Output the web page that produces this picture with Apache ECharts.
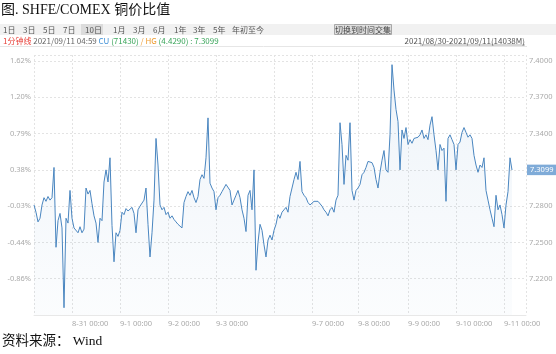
<!DOCTYPE html>
<html>
<head>
<meta charset="utf-8">
<script src="https://cdn.jsdelivr.net/npm/echarts@6/dist/echarts.min.js"></script>
<style>
html,body{margin:0;padding:0;background:#fff;}
#chart{width:556px;height:354px;}
</style>
</head>
<body>
<div id="chart"></div>
<script>
// ---- data (SHFE/COMEX copper ratio, sampled along the trading-minute axis) ----
const ratioValues = [
  // 8-30 night .. 9-1
  7.281,7.275,7.267,7.270,7.281,7.287,7.284,7.288,7.285,7.287,7.312,7.246,7.268,7.274,7.262,7.196,7.270,7.266,7.293,7.270,
  7.262,7.262,7.258,7.263,7.258,7.261,7.295,7.290,7.293,7.282,7.272,7.266,7.250,7.270,7.268,7.300,7.310,7.300,7.320,7.264,
  7.234,7.258,7.255,7.260,7.275,7.273,7.278,7.276,
  // 9-1 .. 9-3
  7.277,7.279,7.274,7.258,7.277,7.280,7.281,7.285,7.295,7.265,7.238,7.258,7.285,7.336,7.314,7.281,7.277,7.279,7.273,7.275,
  7.270,7.272,7.269,7.267,7.265,7.265,7.262,7.283,7.288,7.292,7.289,7.293,7.287,7.283,7.288,7.302,7.306,7.303,7.320,7.353,
  7.299,7.295,7.292,7.277,7.287,7.289,7.292,7.293,7.298,
  // 9-3 .. 9-7
  7.299,7.293,7.281,7.285,7.289,7.293,7.287,7.277,7.270,7.259,7.289,7.293,7.277,7.310,7.227,7.250,7.265,7.260,7.248,7.238,
  7.252,7.256,7.252,7.260,7.265,7.273,7.270,7.275,7.277,7.279,7.275,7.288,7.295,7.302,7.308,7.302,7.317,7.292,7.289,7.287,
  7.283,7.281,7.282,7.284,7.284,7.284,7.284,7.280,7.277,
  // 9-7 .. 9-9
  7.275,7.272,7.277,7.279,7.275,7.285,7.289,7.349,7.331,7.298,7.322,7.318,7.349,7.293,7.285,7.293,7.295,7.298,7.306,7.308,
  7.312,7.317,7.318,7.316,7.312,7.302,7.295,7.308,7.318,7.326,7.310,7.308,7.339,7.397,7.376,7.360,7.350,7.310,7.343,7.336,
  7.345,7.331,7.335,7.332,7.336,7.335,7.337,7.339,7.343,
  // 9-9 .. 9-11 04:59
  7.336,7.339,7.335,7.347,7.354,7.339,7.326,7.310,7.331,7.326,7.328,7.284,7.336,7.339,7.335,7.331,7.310,7.331,7.333,7.341,
  7.345,7.341,7.337,7.339,7.336,7.322,7.314,7.308,7.314,7.312,7.320,7.293,7.285,7.277,7.270,7.263,7.289,7.277,7.281,7.273,
  7.262,7.281,7.292,7.320,7.3099
];
// sample index where each trading day starts, and its axis label
const dayStartIdx = [19, 43, 67, 91, 120, 139, 162, 187, 211, 235];
const dayLabels   = ['8-31 00:00','9-1 00:00','9-2 00:00','9-3 00:00','','9-7 00:00','9-8 00:00','9-9 00:00','9-10 00:00','9-11 00:00'];
const totalSlots = 247; // axis slots incl. empty space after the last quote
const rightTickValues = [7.22, 7.25, 7.28, 7.31, 7.34, 7.37, 7.40];
const leftTickLabels  = ['-0.86%','-0.44%','-0.03%','0.38%','0.79%','1.20%','1.62%'];
const toolbarItems = ['1日','3日','5日','7日','10日','1月','3月','6月','1年','3年','5年','年初至今'];
const lastQuote = {time:'2021/09/11 04:59', cu:'71430', hg:'4.4290', ratio:'7.3099'};
const rangeText = '2021/08/30-2021/09/11(14038M)';

// ---- build ----
const categories = [];
for (let i = 0; i < totalSlots; i++) {
  const k = dayStartIdx.indexOf(i);
  categories.push(k >= 0 ? dayLabels[k] : ('s' + i));
}
const isDayStart = (i) => dayStartIdx.indexOf(i) >= 0;
const lastVal = ratioValues[ratioValues.length - 1];

const labelFont = '"Segoe UI","Noto Sans","Noto Sans CJK SC",sans-serif';
const toolbarX = [3,23,43,63,85,113,133,153,174,193,213,232];

const graphics = [
  {type:'text', left:1, top:3, style:{text:'图. SHFE/COMEX 铜价比值', font:'14px "Liberation Serif","Noto Sans CJK SC",serif', fill:'#111'}},
  {type:'rect', shape:{x:0,y:24,width:556,height:11}, style:{fill:'#f1f1f1'}},
  {type:'rect', shape:{x:81,y:24,width:22,height:11}, style:{fill:'#dcdcdc'}},
  {type:'rect', shape:{x:334.5,y:24.5,width:57,height:10}, style:{fill:'#dedede', stroke:'#a8a8a8', lineWidth:1}},
  {type:'text', x:363, y:29.5, style:{text:'切换到时间交集', font:'8px "Noto Sans CJK SC",sans-serif', fill:'#444', align:'center', verticalAlign:'middle'}},
  {type:'line', shape:{x1:0,y1:46.5,x2:527,y2:46.5}, style:{stroke:'#e6e6e6', lineWidth:1}},
  {type:'text', x:3, y:41, style:{
    text:'{r|1分钟线} {g|' + lastQuote.time + '} {b|CU} {gr|(' + lastQuote.cu + ')} {o|/ HG} {gr|(' + lastQuote.hg + ') : ' + lastQuote.ratio + '}',
    verticalAlign:'middle',
    font:'8px "Noto Sans CJK SC",sans-serif',
    rich:{
      r:{fill:'#e8413a', font:'8px "Noto Sans CJK SC",sans-serif'},
      g:{fill:'#666', font:'8px "Noto Sans CJK SC",sans-serif'},
      b:{fill:'#3d8fd6', font:'8px "Noto Sans CJK SC",sans-serif'},
      gr:{fill:'#3aa55a', font:'8px "Noto Sans CJK SC",sans-serif'},
      o:{fill:'#ee9b2e', font:'8px "Noto Sans CJK SC",sans-serif'}
    }}},
  {type:'text', x:525, y:40.5, style:{text:rangeText, font:'8px "Noto Sans CJK SC",sans-serif', fill:'#555', align:'right', verticalAlign:'middle'}},
  {type:'line', shape:{x1:420,y1:45,x2:525,y2:45}, style:{stroke:'#777', lineWidth:0.6}},
  {type:'text', left:2, top:335, style:{text:'资料来源： Wind', font:'13.5px "Liberation Serif","Noto Sans CJK SC",serif', fill:'#111'}}
];
toolbarItems.forEach((t, i) => {
  graphics.push({type:'text', x:toolbarX[i], y:29.5, style:{text:t, font:'8px "Noto Sans CJK SC",sans-serif', fill:'#555', verticalAlign:'middle'}});
});

const chart = echarts.init(document.getElementById('chart'), null, {renderer:'canvas'});
chart.setOption({
  animation:false,
  backgroundColor:'#fff',
  graphic: graphics,
  grid:{left:34, right:30, top:55, bottom:39},
  xAxis:{
    type:'category', data:categories, boundaryGap:false,
    axisLine:{show:true, lineStyle:{color:'#e8e8e8'}},
    axisTick:{show:false},
    axisLabel:{
      interval:(i) => isDayStart(i),
      formatter:(v) => (v.charAt(0) === 's' ? '' : v),
      align:'left', color:'#aaa', fontSize:7.5, margin:5, fontFamily:labelFont
    },
    splitLine:{show:true, interval:(i) => isDayStart(i) || i === 0 || i === totalSlots - 1,
      lineStyle:{color:'#e3e3e3', type:[2,2]}}
  },
  yAxis:[
    {type:'value', position:'left', min:7.19, max:7.405, interval:0.03, scale:true,
     axisLine:{show:false}, axisTick:{show:false},
     axisLabel:{showMinLabel:false, showMaxLabel:false, color:'#aaa', fontSize:7.5, margin:3, fontFamily:labelFont,
       formatter:(v) => { const k = rightTickValues.findIndex(t => Math.abs(t - v) < 1e-6); return k >= 0 ? leftTickLabels[k] : ''; }},
     splitLine:{show:true, lineStyle:{color:'#e3e3e3', type:[2,2]}}},
    {type:'value', position:'right', min:7.19, max:7.405, interval:0.03, scale:true,
     axisLine:{show:false}, axisTick:{show:false},
     axisLabel:{showMinLabel:false, showMaxLabel:false, color:'#aaa', fontSize:7.5, margin:3, fontFamily:labelFont,
       formatter:(v) => { const k = rightTickValues.findIndex(t => Math.abs(t - v) < 1e-6); return k >= 0 ? v.toFixed(4) : ''; }},
     splitLine:{show:false}}
  ],
  series:[{
    type:'line', yAxisIndex:1, data:ratioValues, showSymbol:false, smooth:false, clip:false, z:5,
    lineStyle:{color:'#4a86c0', width:1},
    areaStyle:{color:new echarts.graphic.LinearGradient(0,0,0,1,[
      {offset:0, color:'rgba(74,134,192,0.13)'},
      {offset:1, color:'rgba(74,134,192,0.03)'}
    ]), origin:'start'},
    markLine:{silent:true, symbol:['none','none'], animation:false, z:10,
      lineStyle:{color:'rgba(0,0,0,0)', width:0, type:'solid'},
      label:{show:true, position:'end', distance:1, opacity:1, formatter:() => lastVal.toFixed(4), color:'#fff', backgroundColor:'#7fabd8',
        fontSize:7.5, padding:[2,3,1,3], fontFamily:labelFont},
      data:[{yAxis:lastVal}]}
  }]
});
</script>
</body>
</html>
